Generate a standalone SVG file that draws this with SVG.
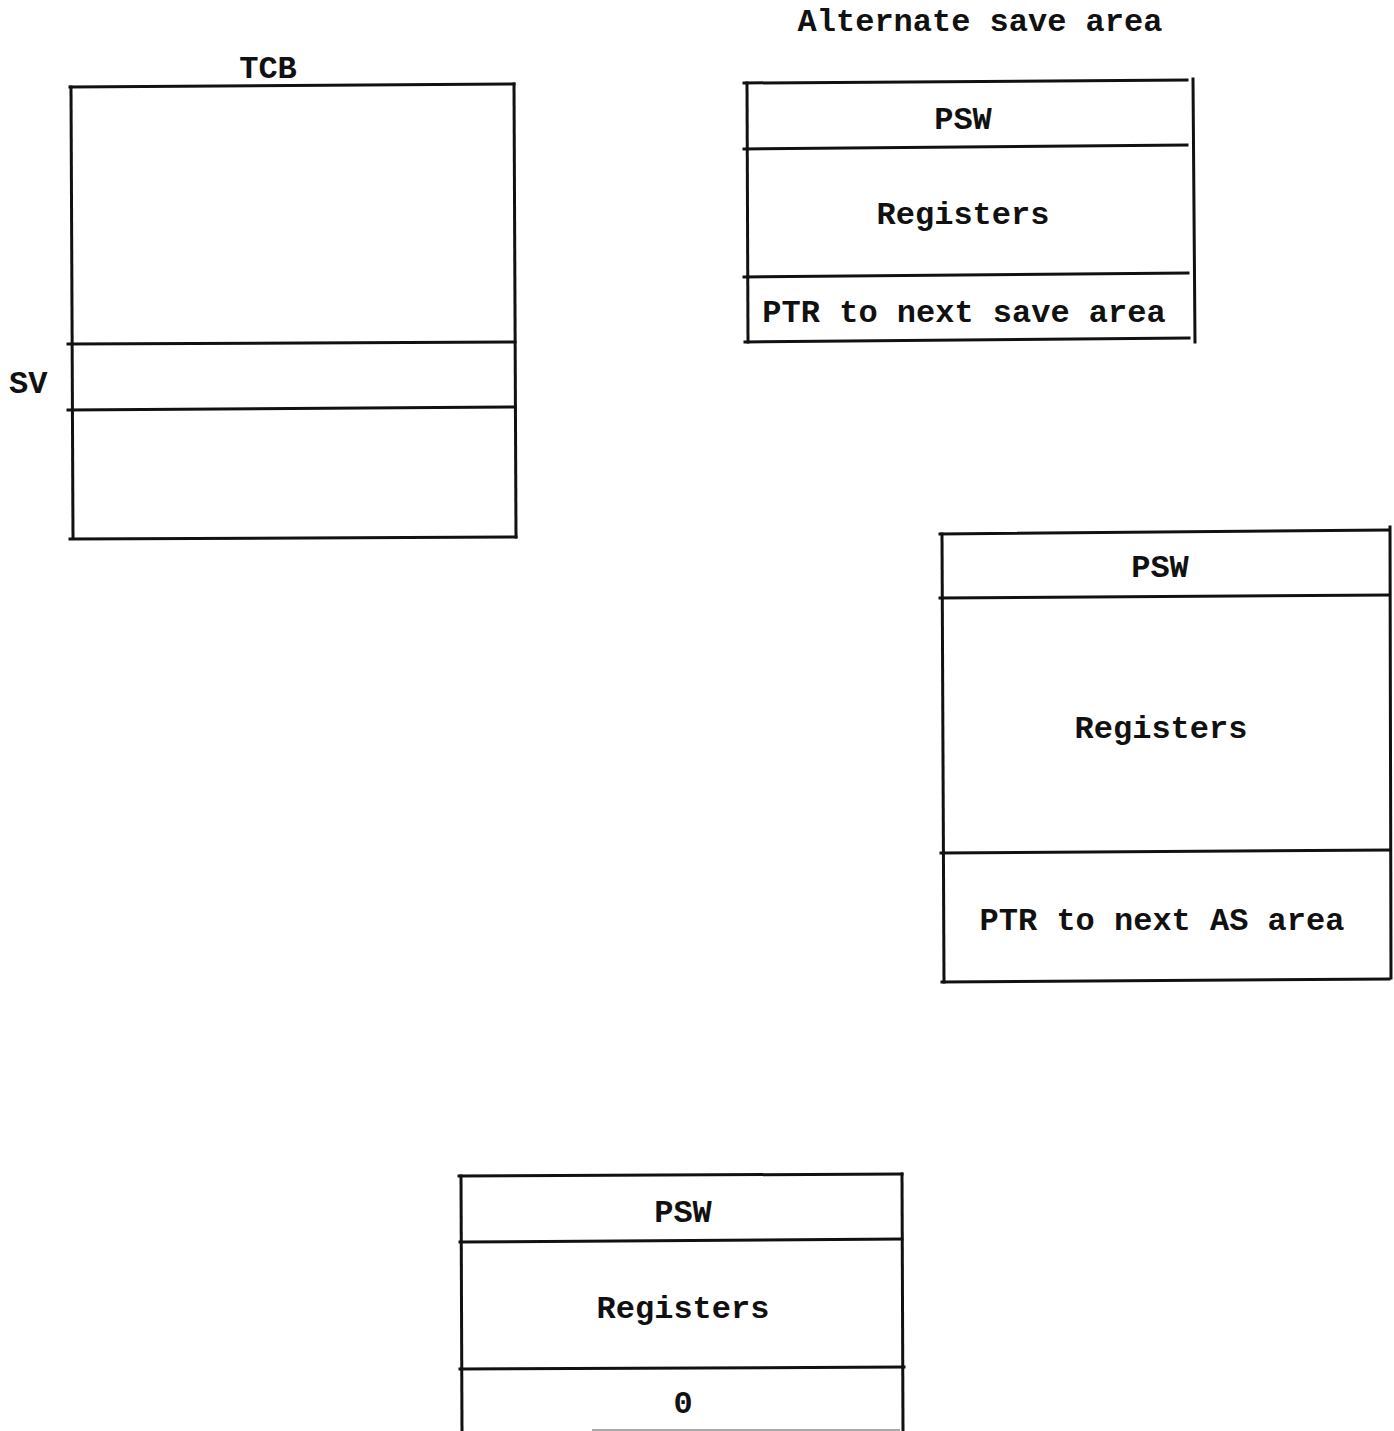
<svg xmlns="http://www.w3.org/2000/svg" width="1394" height="1431" viewBox="0 0 1394 1431">
<style>
  .ln { stroke: #111; stroke-width: 3; fill: none; stroke-linecap: square; }
  .t { font-family: "Liberation Mono", "Courier New", monospace; font-size: 32px; font-weight: bold; fill: #111; text-anchor: middle; }
  .tl { font-family: "Liberation Mono", "Courier New", monospace; font-size: 32px; font-weight: bold; fill: #111; }
</style>
<rect width="1394" height="1431" fill="#fff"/>

<g id="tcb">
  <text class="t" x="268" y="78">TCB</text>
  <line class="ln" x1="70" y1="87" x2="514" y2="84"/>
  <line class="ln" x1="71" y1="87" x2="73" y2="538"/>
  <line class="ln" x1="514" y1="84" x2="516" y2="537"/>
  <line class="ln" x1="68" y1="344" x2="515" y2="342"/>
  <line class="ln" x1="68" y1="410" x2="515" y2="407"/>
  <line class="ln" x1="70" y1="539" x2="516" y2="537"/>
  <text class="tl" x="9" y="393">SV</text>
</g>

<g id="alternate-save-area">
  <text class="t" x="980" y="31">Alternate save area</text>
  <line class="ln" x1="744" y1="83" x2="1187" y2="80"/>
  <line class="ln" x1="747" y1="83" x2="748" y2="342"/>
  <line class="ln" x1="1193" y1="79" x2="1195" y2="342"/>
  <line class="ln" x1="744" y1="149" x2="1187" y2="145"/>
  <line class="ln" x1="744" y1="277" x2="1188" y2="273"/>
  <line class="ln" x1="745" y1="342" x2="1189" y2="338"/>
  <text class="t" x="963" y="129">PSW</text>
  <text class="t" x="963" y="224">Registers</text>
  <text class="t" x="964" y="322">PTR to next save area</text>
</g>

<g id="save-area-2">
  <line class="ln" x1="940" y1="534" x2="1388" y2="530"/>
  <line class="ln" x1="942" y1="534" x2="944" y2="982"/>
  <line class="ln" x1="1390" y1="527" x2="1391" y2="978"/>
  <line class="ln" x1="940" y1="598" x2="1388" y2="595"/>
  <line class="ln" x1="941" y1="853" x2="1389" y2="850"/>
  <line class="ln" x1="942" y1="982" x2="1389" y2="979"/>
  <text class="t" x="1160" y="577">PSW</text>
  <text class="t" x="1161" y="738">Registers</text>
  <text class="t" x="1162" y="930">PTR to next AS area</text>
</g>

<g id="save-area-3">
  <line class="ln" x1="459" y1="1176" x2="902" y2="1174"/>
  <line class="ln" x1="461" y1="1176" x2="462" y2="1431"/>
  <line class="ln" x1="902" y1="1174" x2="903" y2="1431"/>
  <line class="ln" x1="460" y1="1242" x2="902" y2="1239"/>
  <line class="ln" x1="460" y1="1369" x2="904" y2="1367"/>
  <line x1="592" y1="1430" x2="900" y2="1430" stroke="#aaa" stroke-width="2"/>
  <text class="t" x="683" y="1413">0</text>
  <text class="t" x="683" y="1222">PSW</text>
  <text class="t" x="683" y="1318">Registers</text>
</g>

<g id="connectors"></g>
</svg>
